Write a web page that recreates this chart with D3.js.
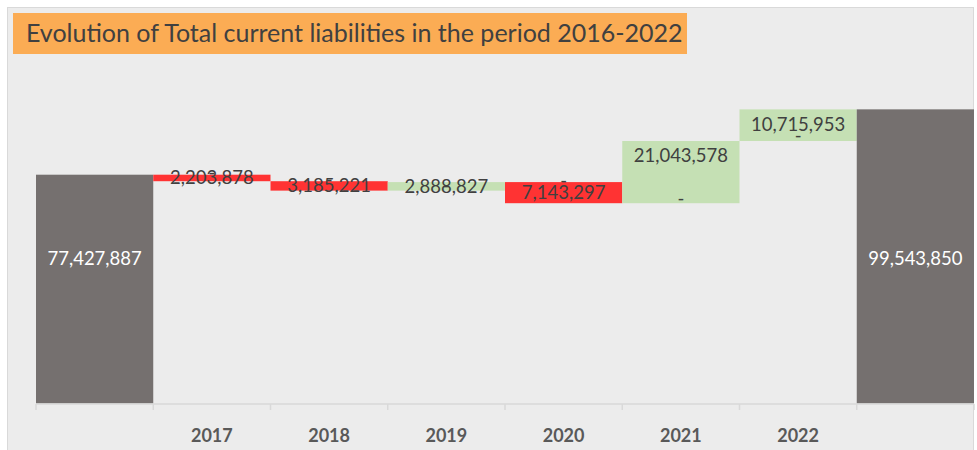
<!DOCTYPE html>
<html>
<head>
<meta charset="utf-8">
<script src="https://cdn.jsdelivr.net/npm/d3@7"></script>
<style>
  body { margin: 0; background: #fff; }
  svg { display: block; }
</style>
</head>
<body>
<svg id="chart" width="977" height="450"></svg>
<script>
// Data
const categories = ["Start", "2017", "2018", "2019", "2020", "2021", "2022", "End"];
const tickLabels = ["", "2017", "2018", "2019", "2020", "2021", "2022", ""];
const startValue = 77427887;
const changes = [-2203878, -3185221, 2888827, -7143297, 21043578, 10715953];
const endValue = 99543850;
const yMax = 120000000;
const title = "Evolution of Total current liabilities in the period 2016-2022";

// Build waterfall steps
let running = startValue;
const steps = [{ cat: categories[0], lo: 0, hi: startValue, value: startValue, type: "total" }];
changes.forEach((c, i) => {
  const prev = running;
  running += c;
  steps.push({ cat: categories[i + 1], lo: Math.min(prev, running), hi: Math.max(prev, running), value: c, type: c >= 0 ? "up" : "down" });
});
steps.push({ cat: categories[categories.length - 1], lo: 0, hi: endValue, value: endValue, type: "total" });

const colors = { total: "#75706f", up: "#c5e0b4", down: "#ff3333" };
const fmt = d3.format(",");
const font = "Lato, 'Open Sans', sans-serif";

const svg = d3.select("#chart");
const H = 450;

// chart background + border
svg.append("rect").attr("x", 7.5).attr("y", 7.5).attr("width", 966).attr("height", H)
  .attr("fill", "#ececec").attr("stroke", "#d9d9d9").attr("stroke-width", 1);

const x = d3.scaleBand().domain(categories).range([36, 974]).padding(0);
const y = d3.scaleLinear().domain([0, yMax]).range([403.5, 48.9]);

const g = svg.append("g");

// bars
g.selectAll("rect.bar")
  .data(steps)
  .enter().append("rect")
  .attr("class", "bar")
  .attr("x", d => x(d.cat))
  .attr("width", x.bandwidth())
  .attr("y", d => y(d.hi))
  .attr("height", d => y(d.lo) - y(d.hi))
  .attr("fill", d => colors[d.type]);

// axis
const axis = g.append("g").attr("transform", "translate(0,404)");
axis.append("line").attr("x1", 36).attr("x2", 974).attr("y1", 0).attr("y2", 0)
  .attr("stroke", "#d9d9d9").attr("stroke-width", 1.5);
const bounds = categories.map(c => x(c)).concat([x.range()[1]]);
axis.selectAll("line.tick")
  .data(bounds)
  .enter().append("line")
  .attr("class", "tick")
  .attr("x1", d => d).attr("x2", d => d)
  .attr("y1", 0).attr("y2", 6)
  .attr("stroke", "#d9d9d9").attr("stroke-width", 1.5);
axis.selectAll("text")
  .data(categories)
  .enter().append("text")
  .attr("x", d => x(d) + x.bandwidth() / 2)
  .attr("y", 38)
  .attr("text-anchor", "middle")
  .attr("font-family", font)
  .attr("font-weight", "bold")
  .attr("font-size", 18)
  .attr("fill", "#595959")
  .text((d, i) => tickLabels[i]);

// data labels
g.selectAll("text.val")
  .data(steps)
  .enter().append("text")
  .attr("class", "val")
  .attr("x", d => x(d.cat) + x.bandwidth() / 2)
  .attr("y", d => {
    if (d.type === "total") return y(yMax * 0.41);
    const top = y(d.hi), bot = y(d.lo);
    return top + Math.min((bot - top) / 2, 15);
  })
  .attr("dy", "0.35em")
  .attr("text-anchor", "middle")
  .attr("font-family", font)
  .attr("font-size", 18.5)
  .attr("fill", d => d.type === "total" ? "#ffffff" : "#404040")
  .text(d => fmt(Math.abs(d.value)));

// zero labels of the hidden opposite series
g.selectAll("text.zero")
  .data(steps.filter(d => d.type !== "total"))
  .enter().append("text")
  .attr("class", "zero")
  .attr("x", d => x(d.cat) + x.bandwidth() / 2)
  .attr("y", d => d.type === "down" ? y(d.hi) - 2 : y(d.lo) - 5)
  .attr("dy", "0.35em")
  .attr("text-anchor", "middle")
  .attr("font-family", font)
  .attr("font-size", 18.5)
  .attr("fill", "#404040")
  .text("-");

// title box
svg.append("rect").attr("x", 13).attr("y", 13).attr("width", 674).attr("height", 41)
  .attr("fill", "#fbac54");
svg.append("text")
  .attr("x", 26).attr("y", 42)
  .attr("font-family", font)
  .attr("font-size", 25)
  .attr("fill", "#404040")
  .text(title);
</script>
</body>
</html>
